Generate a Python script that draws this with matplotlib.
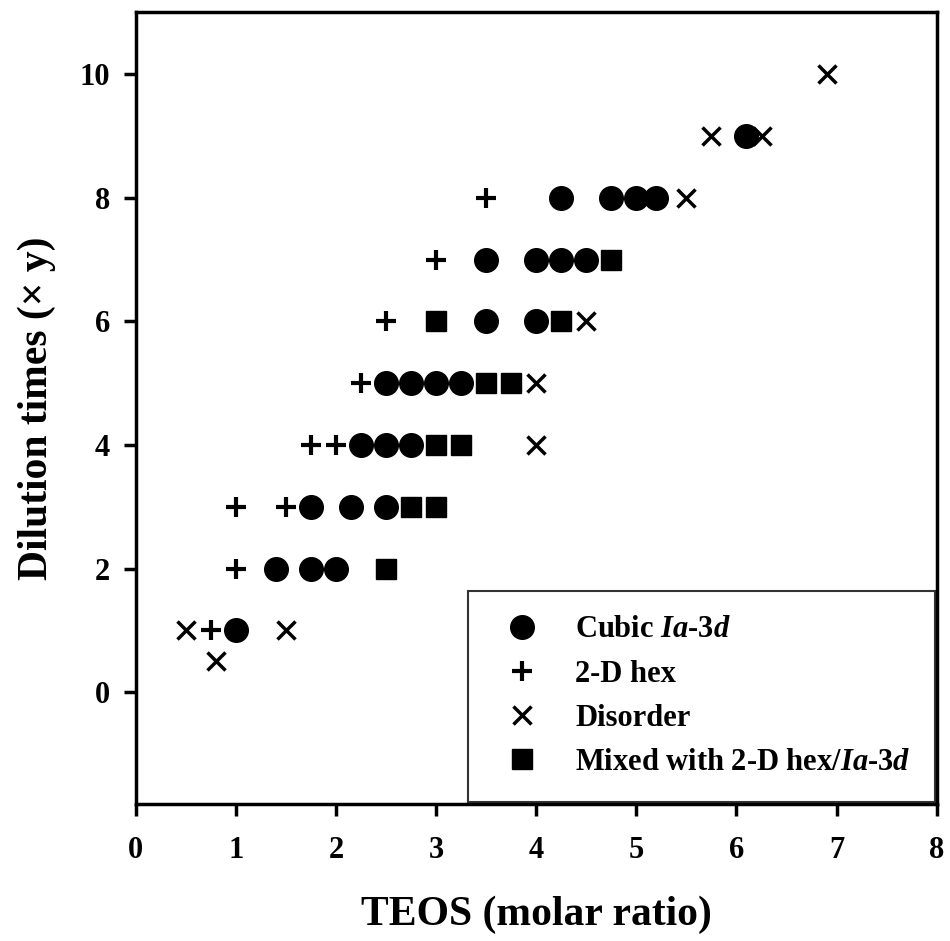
import matplotlib
matplotlib.use("Agg")
import matplotlib.pyplot as plt
from matplotlib.lines import Line2D

plt.rcParams['font.family'] = ['Liberation Serif', 'DejaVu Serif']
plt.rcParams['font.weight'] = 'bold'
plt.rcParams['mathtext.fontset'] = 'custom'
plt.rcParams['mathtext.it'] = 'Liberation Serif:italic:bold'
plt.rcParams['mathtext.bf'] = 'Liberation Serif:bold'
plt.rcParams['mathtext.rm'] = 'Liberation Serif:bold'

# Cubic Ia-3d
cubic_x = [1.0, 1.4, 1.75, 2.0, 1.75, 2.15, 2.5, 2.25, 2.5, 2.75, 2.5, 2.75, 3.0, 3.25,
           3.5, 4.0, 3.5, 4.0, 4.25, 4.5, 4.25, 4.75, 5.0, 5.2, 6.1]
cubic_y = [1, 2, 2, 2, 3, 3, 3, 4, 4, 4, 5, 5, 5, 5,
           6, 6, 7, 7, 7, 7, 8, 8, 8, 8, 9]
# 2-D hex
hex_x = [0.75, 1.0, 1.0, 1.5, 1.75, 2.0, 2.25, 2.5, 3.0, 3.5]
hex_y = [1, 2, 3, 3, 4, 4, 5, 6, 7, 8]
# Disorder
dis_x = [0.5, 1.5, 0.8, 4.0, 4.0, 4.5, 5.5, 5.75, 6.25, 6.9]
dis_y = [1, 1, 0.5, 4, 5, 6, 8, 9, 9, 10]
# Mixed with 2-D hex/Ia-3d
mix_x = [2.5, 2.75, 3.0, 3.0, 3.25, 3.5, 3.75, 3.0, 4.25, 4.75]
mix_y = [2, 3, 3, 4, 4, 5, 5, 6, 6, 7]

x_ticks = [0, 1, 2, 3, 4, 5, 6, 7, 8]
y_ticks = [0, 2, 4, 6, 8, 10]

fig = plt.figure(figsize=(9.5, 9.41), dpi=100)
ax = fig.add_axes([0.143, 0.146, 0.843, 0.841])

circ_kw = dict(marker='o', color='black', markersize=17, linestyle='none')
plus_kw = dict(marker='+', color='black', markersize=15, markeredgewidth=3.0, linestyle='none')
x_kw = dict(marker='x', color='black', markersize=13, markeredgewidth=2.5, linestyle='none')
sq_kw = dict(marker='s', color='black', markersize=15, linestyle='none')

ax.plot(cubic_x, cubic_y, zorder=3, **circ_kw)
ax.plot(hex_x, hex_y, zorder=3, **plus_kw)
ax.plot(dis_x, dis_y, zorder=3, **x_kw)
ax.plot(mix_x, mix_y, zorder=3, **sq_kw)

ax.set_xlim(0, 8)
ax.set_ylim(-1.8, 11)
ax.set_xticks(x_ticks)
ax.set_yticks(y_ticks)
ax.tick_params(direction='out', length=8.5, width=2.5, labelsize=22)
ax.tick_params(axis='x', pad=15)
ax.tick_params(axis='y', pad=10)
for lab in ax.get_xticklabels() + ax.get_yticklabels():
    lab.set_fontweight('bold')
for s in ax.spines.values():
    s.set_linewidth(2.5)

ax.set_xlabel('TEOS (molar ratio)', fontsize=30, fontweight='bold', labelpad=22)
ax.set_ylabel('Dilution times (× y)', fontsize=30, fontweight='bold', labelpad=17)

handles = [Line2D([], [], **circ_kw), Line2D([], [], **plus_kw),
           Line2D([], [], **x_kw), Line2D([], [], **sq_kw)]
labels = ['Cubic $\\mathit{Ia}$-3$\\mathit{d}$', '2-D hex', 'Disorder',
          'Mixed with 2-D hex/$\\mathit{Ia}$-3$\\mathit{d}$']
leg = ax.legend(handles, labels, loc='lower right', bbox_to_anchor=(0.9975, 0.0025),
                prop={'size': 22, 'weight': 'bold'}, frameon=True, fancybox=False,
                edgecolor='black', borderpad=0.8, labelspacing=0.5, handletextpad=0.77,
                borderaxespad=0.0, handlelength=1.93)
leg.get_frame().set_linewidth(1.5)

fig.savefig('out.png', dpi=100)
